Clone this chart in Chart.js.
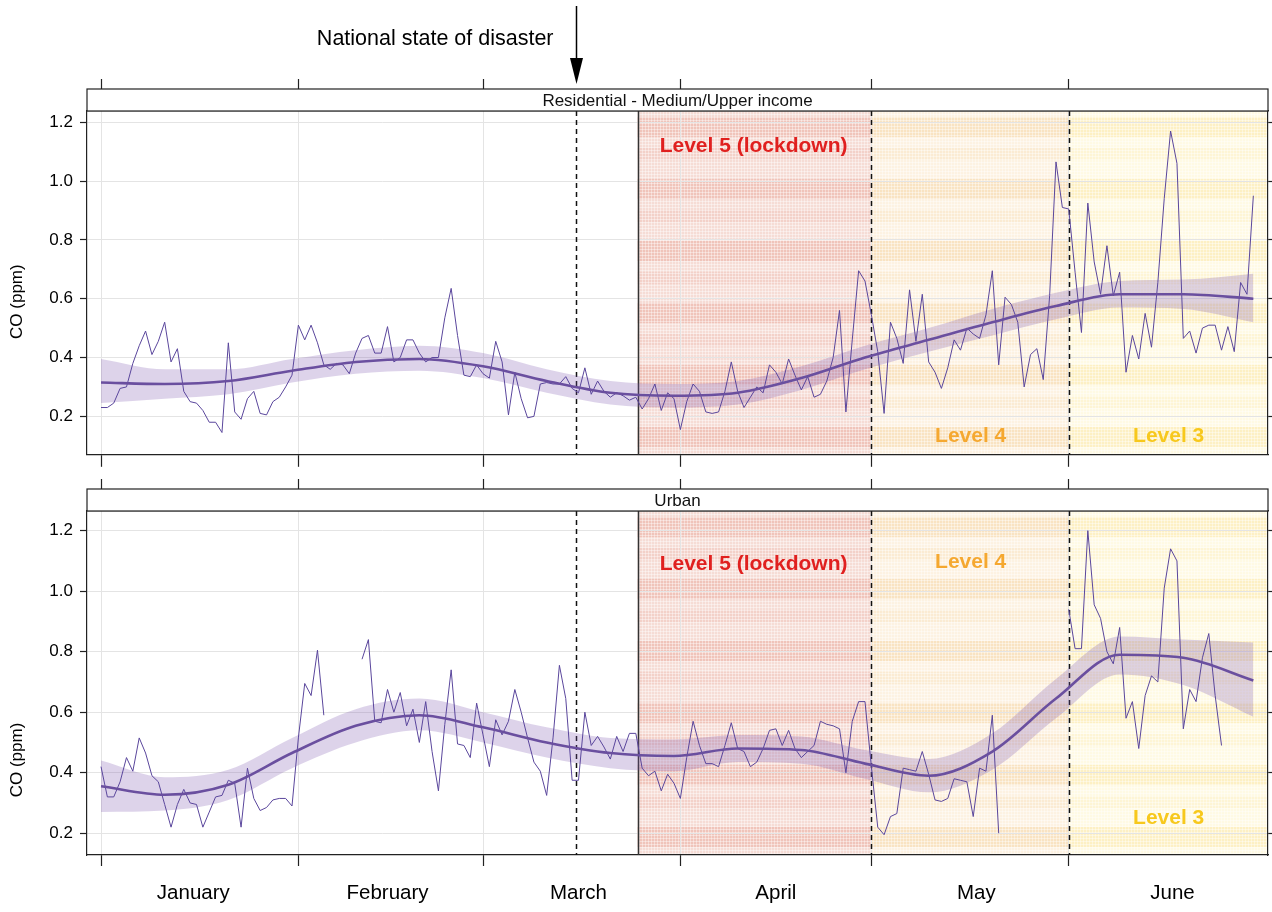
<!DOCTYPE html>
<html lang="en">
<head>
<meta charset="UTF-8" />
<title>CO (ppm) - lockdown levels 2020</title>
<script src="https://cdn.jsdelivr.net/npm/chart.js"></script>
<style>
  html, body { margin: 0; padding: 0; background: #fff; overflow: hidden; }
  .panel { position: absolute; left: 0; width: 1272px; }
  #topPanel { top: 0; height: 472px; }
  #bottomPanel { top: 472px; height: 440px; }
</style>
</head>
<body>
<div class="panel" id="topPanel"><canvas id="chartTop"></canvas></div>
<div class="panel" id="bottomPanel"><canvas id="chartBottom"></canvas></div>
<script>
// x axis is "day of 2020" (0 = 1 January)
var months = ["January", "February", "March", "April", "May", "June"];
var monthStartDays = [0, 31, 60, 91, 121, 152];
var monthLabelDays = [14.5, 45, 75, 106, 137.5, 168.3];
var yTickValues = [0.2, 0.4, 0.6, 0.8, 1.0, 1.2];

// event dates (day of year)
var disasterDay = 74.6;
var lockdownDay = 84.3;
var level4Day = 121;
var level3Day = 152;

// daily CO, Residential - Medium/Upper income (days 0..181)
var residentialDaily = [
  0.23, 0.23, 0.245, 0.295, 0.30, 0.38, 0.44, 0.49, 0.41, 0.455,
  0.52, 0.385, 0.43, 0.285, 0.25, 0.245, 0.22, 0.18, 0.18, 0.145,
  0.45, 0.215, 0.19, 0.26, 0.285, 0.21, 0.205, 0.25, 0.265, 0.30,
  0.34, 0.51, 0.46, 0.51, 0.45, 0.375, 0.36, 0.38, 0.375, 0.345,
  0.415, 0.465, 0.475, 0.415, 0.415, 0.505, 0.385, 0.40, 0.46, 0.46,
  0.415, 0.385, 0.40, 0.40, 0.535, 0.635, 0.475, 0.34, 0.335, 0.375,
  0.345, 0.33, 0.455, 0.385, 0.205, 0.35, 0.26, 0.195, 0.20, 0.31,
  0.315, 0.31, 0.31, 0.335, 0.295, 0.28, 0.365, 0.275, 0.32, 0.285,
  0.265, 0.28, 0.27, 0.255, 0.265, 0.225, 0.26, 0.31, 0.22, 0.28,
  0.26, 0.155, 0.25, 0.31, 0.285, 0.215, 0.21, 0.215, 0.285, 0.385,
  0.285, 0.23, 0.265, 0.30, 0.28, 0.375, 0.35, 0.31, 0.395, 0.34,
  0.29, 0.335, 0.265, 0.275, 0.32, 0.40, 0.56, 0.215, 0.46, 0.695,
  0.66, 0.545, 0.42, 0.21, 0.52, 0.465, 0.38, 0.63, 0.455, 0.615,
  0.385, 0.35, 0.295, 0.365, 0.46, 0.425, 0.50, 0.48, 0.465, 0.545,
  0.695, 0.375, 0.605, 0.58, 0.52, 0.30, 0.41, 0.43, 0.325, 0.61,
  1.065, 0.91, 0.905, 0.69, 0.485, 0.925, 0.725, 0.615, 0.78, 0.61,
  0.69, 0.35, 0.475, 0.395, 0.55, 0.435, 0.655, 0.94, 1.17, 1.06,
  0.465, 0.49, 0.415, 0.50, 0.51, 0.51, 0.425, 0.505, 0.42, 0.655, 0.615, 0.95
];

// daily CO, Urban (days 0..181, null = missing)
var urbanDaily = [
  0.42, 0.32, 0.32, 0.37, 0.45, 0.405, 0.515, 0.465, 0.39, 0.37,
  0.295, 0.22, 0.295, 0.345, 0.30, 0.295, 0.22, 0.27, 0.32, 0.325,
  0.375, 0.365, 0.22, 0.415, 0.315, 0.275, 0.285, 0.31, 0.315, 0.315,
  0.29, 0.515, 0.695, 0.655, 0.805, 0.59, null, null, null, null,
  null, 0.775, 0.84, 0.57, 0.565, 0.675, 0.60, 0.665, 0.555, 0.61,
  0.50, 0.635, 0.47, 0.34, 0.56, 0.74, 0.495, 0.49, 0.45, 0.63,
  0.525, 0.42, 0.575, 0.525, 0.57, 0.675, 0.60, 0.515, 0.435, 0.405,
  0.325, 0.515, 0.755, 0.645, 0.375, 0.375, 0.60, 0.49, 0.52, 0.485,
  0.445, 0.52, 0.47, 0.53, 0.53, 0.415, 0.39, 0.405, 0.34, 0.395,
  0.365, 0.315, 0.45, 0.57, 0.49, 0.43, 0.43, 0.42, 0.49, 0.565,
  0.48, 0.47, 0.42, 0.435, 0.48, 0.54, 0.545, 0.49, 0.54, 0.48,
  0.45, 0.47, 0.49, 0.57, 0.56, 0.555, 0.545, 0.40, 0.57, 0.635,
  0.635, 0.42, 0.22, 0.195, 0.255, 0.265, 0.415, 0.41, 0.405, 0.47,
  0.395, 0.31, 0.305, 0.315, 0.38, 0.375, 0.37, 0.255, 0.415, 0.405,
  0.59, 0.20, null, null, null, null, null, null, null, null,
  null, null, 0.94, 0.81, 0.81, 1.2, 0.955, 0.91, 0.80, 0.76,
  0.88, 0.58, 0.635, 0.48, 0.655, 0.72, 0.70, 1.01, 1.14, 1.10,
  0.545, 0.675, 0.635, 0.78, 0.86, 0.655, 0.49, null, null, null, null, null
];

// smooth trend and its confidence band
var smoothDays = [0, 10, 20, 30, 40, 50, 60, 70, 80, 90, 100, 110, 120, 130, 140, 150, 160, 170, 181];
var residentialFit   = [0.315, 0.31, 0.32, 0.355, 0.385, 0.395, 0.37, 0.32, 0.28, 0.27, 0.28, 0.33, 0.40, 0.46, 0.52, 0.575, 0.615, 0.615, 0.60];
var residentialUpper = [0.395, 0.36, 0.36, 0.395, 0.425, 0.44, 0.415, 0.36, 0.32, 0.31, 0.32, 0.37, 0.44, 0.50, 0.565, 0.62, 0.66, 0.665, 0.685];
var residentialLower = [0.245, 0.26, 0.275, 0.315, 0.345, 0.355, 0.33, 0.28, 0.24, 0.23, 0.24, 0.29, 0.36, 0.42, 0.475, 0.53, 0.57, 0.565, 0.52];
var urbanFit   = [0.355, 0.327, 0.36, 0.465, 0.555, 0.59, 0.55, 0.50, 0.465, 0.455, 0.48, 0.475, 0.43, 0.39, 0.47, 0.645, 0.79, 0.78, 0.705];
var urbanUpper = [0.44, 0.385, 0.41, 0.515, 0.61, 0.645, 0.60, 0.55, 0.515, 0.51, 0.525, 0.52, 0.475, 0.445, 0.53, 0.71, 0.85, 0.84, 0.83];
var urbanLower = [0.27, 0.275, 0.31, 0.415, 0.50, 0.54, 0.50, 0.45, 0.415, 0.405, 0.435, 0.43, 0.38, 0.335, 0.41, 0.58, 0.725, 0.69, 0.585];

var FONT = '"Liberation Sans", Arial, Helvetica, sans-serif';
Chart.defaults.font.family = FONT;
Chart.defaults.color = '#000';

var xMin = -2.2, xMax = 183.3;

function dailyPoints(vals) {
  return vals.map(function (v, i) { return { x: i, y: v }; });
}
function smoothPoints(vals) {
  return vals.map(function (v, i) { return { x: smoothDays[i], y: v }; });
}

// fine grid texture used on the level shading
var tile = document.createElement('canvas');
tile.width = 3; tile.height = 3;
var tctx = tile.getContext('2d');
tctx.fillStyle = 'rgba(255,255,255,0.4)';
tctx.fillRect(0, 0, 3, 1);
tctx.fillRect(0, 0, 1, 3);

var shading = {
  id: 'shading',
  beforeDraw: function (chart) {
    var ctx = chart.ctx, a = chart.chartArea, xs = chart.scales.x;
    var zones = [
      { from: lockdownDay, to: level4Day, light: '#f6dcd5', dark: '#f0c4ba' },
      { from: level4Day, to: level3Day, light: '#fdf2e2', dark: '#f9e3c2' },
      { from: level3Day, to: xs.max, light: '#fffae4', dark: '#fdf0c4' }
    ];
    var pattern = ctx.createPattern(tile, 'repeat');
    ctx.save();
    ctx.beginPath();
    ctx.rect(a.left, a.top, a.right - a.left, a.bottom - a.top);
    ctx.clip();
    zones.forEach(function (z) {
      var x0 = xs.getPixelForValue(z.from);
      var x1 = Math.min(xs.getPixelForValue(z.to), a.right);
      ctx.fillStyle = z.light;
      ctx.fillRect(x0, a.top, x1 - x0, a.bottom - a.top);
      ctx.fillStyle = z.dark;
      for (var y = a.top; y < a.bottom; y += 62) {
        ctx.globalAlpha = 1;
        ctx.fillRect(x0, y + 6, x1 - x0, 20);
        ctx.globalAlpha = 0.45;
        ctx.fillRect(x0, y + 37, x1 - x0, 12);
      }
      ctx.globalAlpha = 1;
      ctx.fillStyle = pattern;
      ctx.fillRect(x0, a.top, x1 - x0, a.bottom - a.top);
    });
    ctx.restore();
  }
};

var eventLines = {
  id: 'eventLines',
  beforeDatasetsDraw: function (chart) {
    var ctx = chart.ctx, a = chart.chartArea, xs = chart.scales.x;
    function vline(day, dash, color) {
      var px = Math.round(xs.getPixelForValue(day)) + 0.5;
      ctx.save();
      ctx.strokeStyle = color;
      ctx.lineWidth = 1.5;
      ctx.setLineDash(dash);
      ctx.beginPath();
      ctx.moveTo(px, a.top);
      ctx.lineTo(px, a.bottom);
      ctx.stroke();
      ctx.restore();
    }
    vline(disasterDay, [5, 4], '#111');
    vline(lockdownDay, [], '#333');
    vline(level4Day, [5, 4], '#111');
    vline(level3Day, [5, 4], '#111');
  }
};

var levelLabels = {
  id: 'levelLabels',
  afterDatasetsDraw: function (chart, args, opts) {
    var ctx = chart.ctx, xs = chart.scales.x, ys = chart.scales.y;
    ctx.save();
    ctx.font = 'bold 21px ' + FONT;
    ctx.textAlign = 'center';
    ctx.textBaseline = 'middle';
    (opts.items || []).forEach(function (it) {
      ctx.fillStyle = it.color;
      ctx.fillText(it.text, xs.getPixelForValue(it.day), ys.getPixelForValue(it.value));
    });
    ctx.restore();
  }
};

var strip = {
  id: 'strip',
  afterDraw: function (chart, args, opts) {
    var ctx = chart.ctx, a = chart.chartArea, h = 22;
    ctx.save();
    ctx.fillStyle = '#fff';
    ctx.fillRect(a.left, a.top - h, a.right - a.left, h);
    ctx.strokeStyle = '#222';
    ctx.lineWidth = 1.2;
    ctx.strokeRect(a.left, a.top - h, a.right - a.left, h);
    ctx.fillStyle = '#111';
    ctx.font = '17px ' + FONT;
    ctx.textAlign = 'center';
    ctx.textBaseline = 'middle';
    ctx.fillText(opts.text, (a.left + a.right) / 2, a.top - h / 2 + 1);
    ctx.restore();
  }
};

var yTitle = {
  id: 'yTitle',
  afterDraw: function (chart, args, opts) {
    var ctx = chart.ctx, py = chart.scales.y.getPixelForValue(opts.value);
    ctx.save();
    ctx.translate(17, py);
    ctx.rotate(-Math.PI / 2);
    ctx.font = '17px ' + FONT;
    ctx.fillStyle = '#000';
    ctx.textAlign = 'center';
    ctx.textBaseline = 'middle';
    ctx.fillText('CO (ppm)', 0, 0);
    ctx.restore();
  }
};

var disasterNote = {
  id: 'disasterNote',
  afterDraw: function (chart) {
    var ctx = chart.ctx, px = Math.round(chart.scales.x.getPixelForValue(disasterDay)) + 0.5;
    ctx.save();
    ctx.strokeStyle = '#000';
    ctx.lineWidth = 1.5;
    ctx.beginPath();
    ctx.moveTo(px, 6);
    ctx.lineTo(px, 62);
    ctx.stroke();
    ctx.fillStyle = '#000';
    ctx.beginPath();
    ctx.moveTo(px - 6.5, 58);
    ctx.lineTo(px + 6.5, 58);
    ctx.lineTo(px, 84);
    ctx.closePath();
    ctx.fill();
    ctx.font = '21.5px ' + FONT;
    ctx.textAlign = 'right';
    ctx.textBaseline = 'middle';
    ctx.fillText('National state of disaster', px - 23, 39);
    ctx.restore();
  }
};

function isMonthStart(c) {
  return c.tick && monthStartDays.indexOf(c.tick.value) >= 0;
}

function buildChart(canvasId, cfg) {
  var xTickDays = cfg.showMonths ? monthStartDays.concat(monthLabelDays).sort(function (p, q) { return p - q; }) : monthStartDays;
  return new Chart(document.getElementById(canvasId), {
    type: 'line',
    data: {
      datasets: [
        { data: dailyPoints(cfg.daily), borderColor: '#5a469c', borderWidth: 1, pointRadius: 0, spanGaps: false, tension: 0, order: 1 },
        { data: smoothPoints(cfg.fit), borderColor: '#6a4f9f', borderWidth: 2.6, pointRadius: 0, cubicInterpolationMode: 'monotone', order: 0 },
        { data: smoothPoints(cfg.upper), borderWidth: 0, pointRadius: 0, backgroundColor: 'rgba(125,85,175,0.26)', fill: '+1', cubicInterpolationMode: 'monotone', order: 2 },
        { data: smoothPoints(cfg.lower), borderWidth: 0, pointRadius: 0, fill: false, cubicInterpolationMode: 'monotone', order: 3 }
      ]
    },
    options: {
      responsive: true,
      maintainAspectRatio: false,
      animation: false,
      layout: { padding: 0 },
      plugins: {
        legend: { display: false },
        tooltip: { enabled: false },
        strip: { text: cfg.strip },
        levelLabels: { items: cfg.levels },
        yTitle: { value: cfg.titleAt }
      },
      scales: {
        x: {
          type: 'linear', position: 'bottom', min: xMin, max: xMax,
          afterBuildTicks: function (s) { s.ticks = xTickDays.map(function (d) { return { value: d }; }); },
          afterFit: function (s) { s.height = cfg.bottomHeight; },
          ticks: {
            display: cfg.showMonths, autoSkip: false, maxRotation: 0, minRotation: 0,
            padding: 15, font: { size: 20.5 }, color: '#000',
            callback: function (v) { var i = monthLabelDays.indexOf(v); return i >= 0 ? months[i] : ''; }
          },
          grid: {
            color: function (c) { return isMonthStart(c) ? '#e4e4e4' : 'rgba(0,0,0,0)'; },
            tickColor: function (c) { return isMonthStart(c) ? '#222' : 'rgba(0,0,0,0)'; },
            tickLength: cfg.bottomTick, tickWidth: 1.2
          },
          border: { color: '#222', width: 1.2 }
        },
        xTop: {
          type: 'linear', position: 'top', display: true, min: xMin, max: xMax,
          afterBuildTicks: function (s) { s.ticks = monthStartDays.map(function (d) { return { value: d }; }); },
          afterFit: function (s) { s.height = cfg.topHeight; },
          ticks: { display: false },
          grid: { drawOnChartArea: false, tickLength: cfg.topTick, tickColor: '#222', tickWidth: 1.2 },
          border: { color: '#222', width: 1.2 }
        },
        y: {
          position: 'left', min: cfg.yMin, max: cfg.yMax,
          afterBuildTicks: function (s) { s.ticks = yTickValues.map(function (v) { return { value: v }; }); },
          afterFit: function (s) { s.width = 87; },
          ticks: { font: { size: 17 }, color: '#000', padding: 7, callback: function (v) { return v.toFixed(1); } },
          grid: { color: '#e4e4e4', tickColor: '#222', tickLength: 7, tickWidth: 1.2 },
          border: { color: '#222', width: 1.2 }
        },
        yRight: {
          position: 'right', display: true, min: cfg.yMin, max: cfg.yMax,
          afterBuildTicks: function (s) { s.ticks = yTickValues.map(function (v) { return { value: v }; }); },
          afterFit: function (s) { s.width = 4; },
          ticks: { display: false },
          grid: { drawOnChartArea: false, tickColor: '#222', tickLength: 4, tickWidth: 1.2 },
          border: { color: '#222', width: 1.2 }
        }
      }
    },
    plugins: [shading, eventLines, levelLabels, strip, yTitle].concat(cfg.extra || [])
  });
}

buildChart('chartTop', {
  daily: residentialDaily, fit: residentialFit, upper: residentialUpper, lower: residentialLower,
  strip: 'Residential - Medium/Upper income',
  yMin: 0.0693, yMax: 1.238, titleAt: 0.59,
  topHeight: 111, topTick: 32, bottomHeight: 15, bottomTick: 12, showMonths: false,
  levels: [
    { text: 'Level 5 (lockdown)', day: 102.5, value: 1.12, color: '#e0201f' },
    { text: 'Level 4', day: 136.6, value: 0.133, color: '#f5a830' },
    { text: 'Level 3', day: 167.7, value: 0.133, color: '#f7c81c' }
  ],
  extra: [disasterNote]
});

buildChart('chartBottom', {
  daily: urbanDaily, fit: urbanFit, upper: urbanUpper, lower: urbanLower,
  strip: 'Urban',
  yMin: 0.128, yMax: 1.265, titleAt: 0.442,
  topHeight: 39, topTick: 32, bottomHeight: 57, bottomTick: 11, showMonths: true,
  levels: [
    { text: 'Level 5 (lockdown)', day: 102.5, value: 1.09, color: '#e0201f' },
    { text: 'Level 4', day: 136.6, value: 1.096, color: '#f5a830' },
    { text: 'Level 3', day: 167.7, value: 0.25, color: '#f7c81c' }
  ]
});
</script>
</body>
</html>
